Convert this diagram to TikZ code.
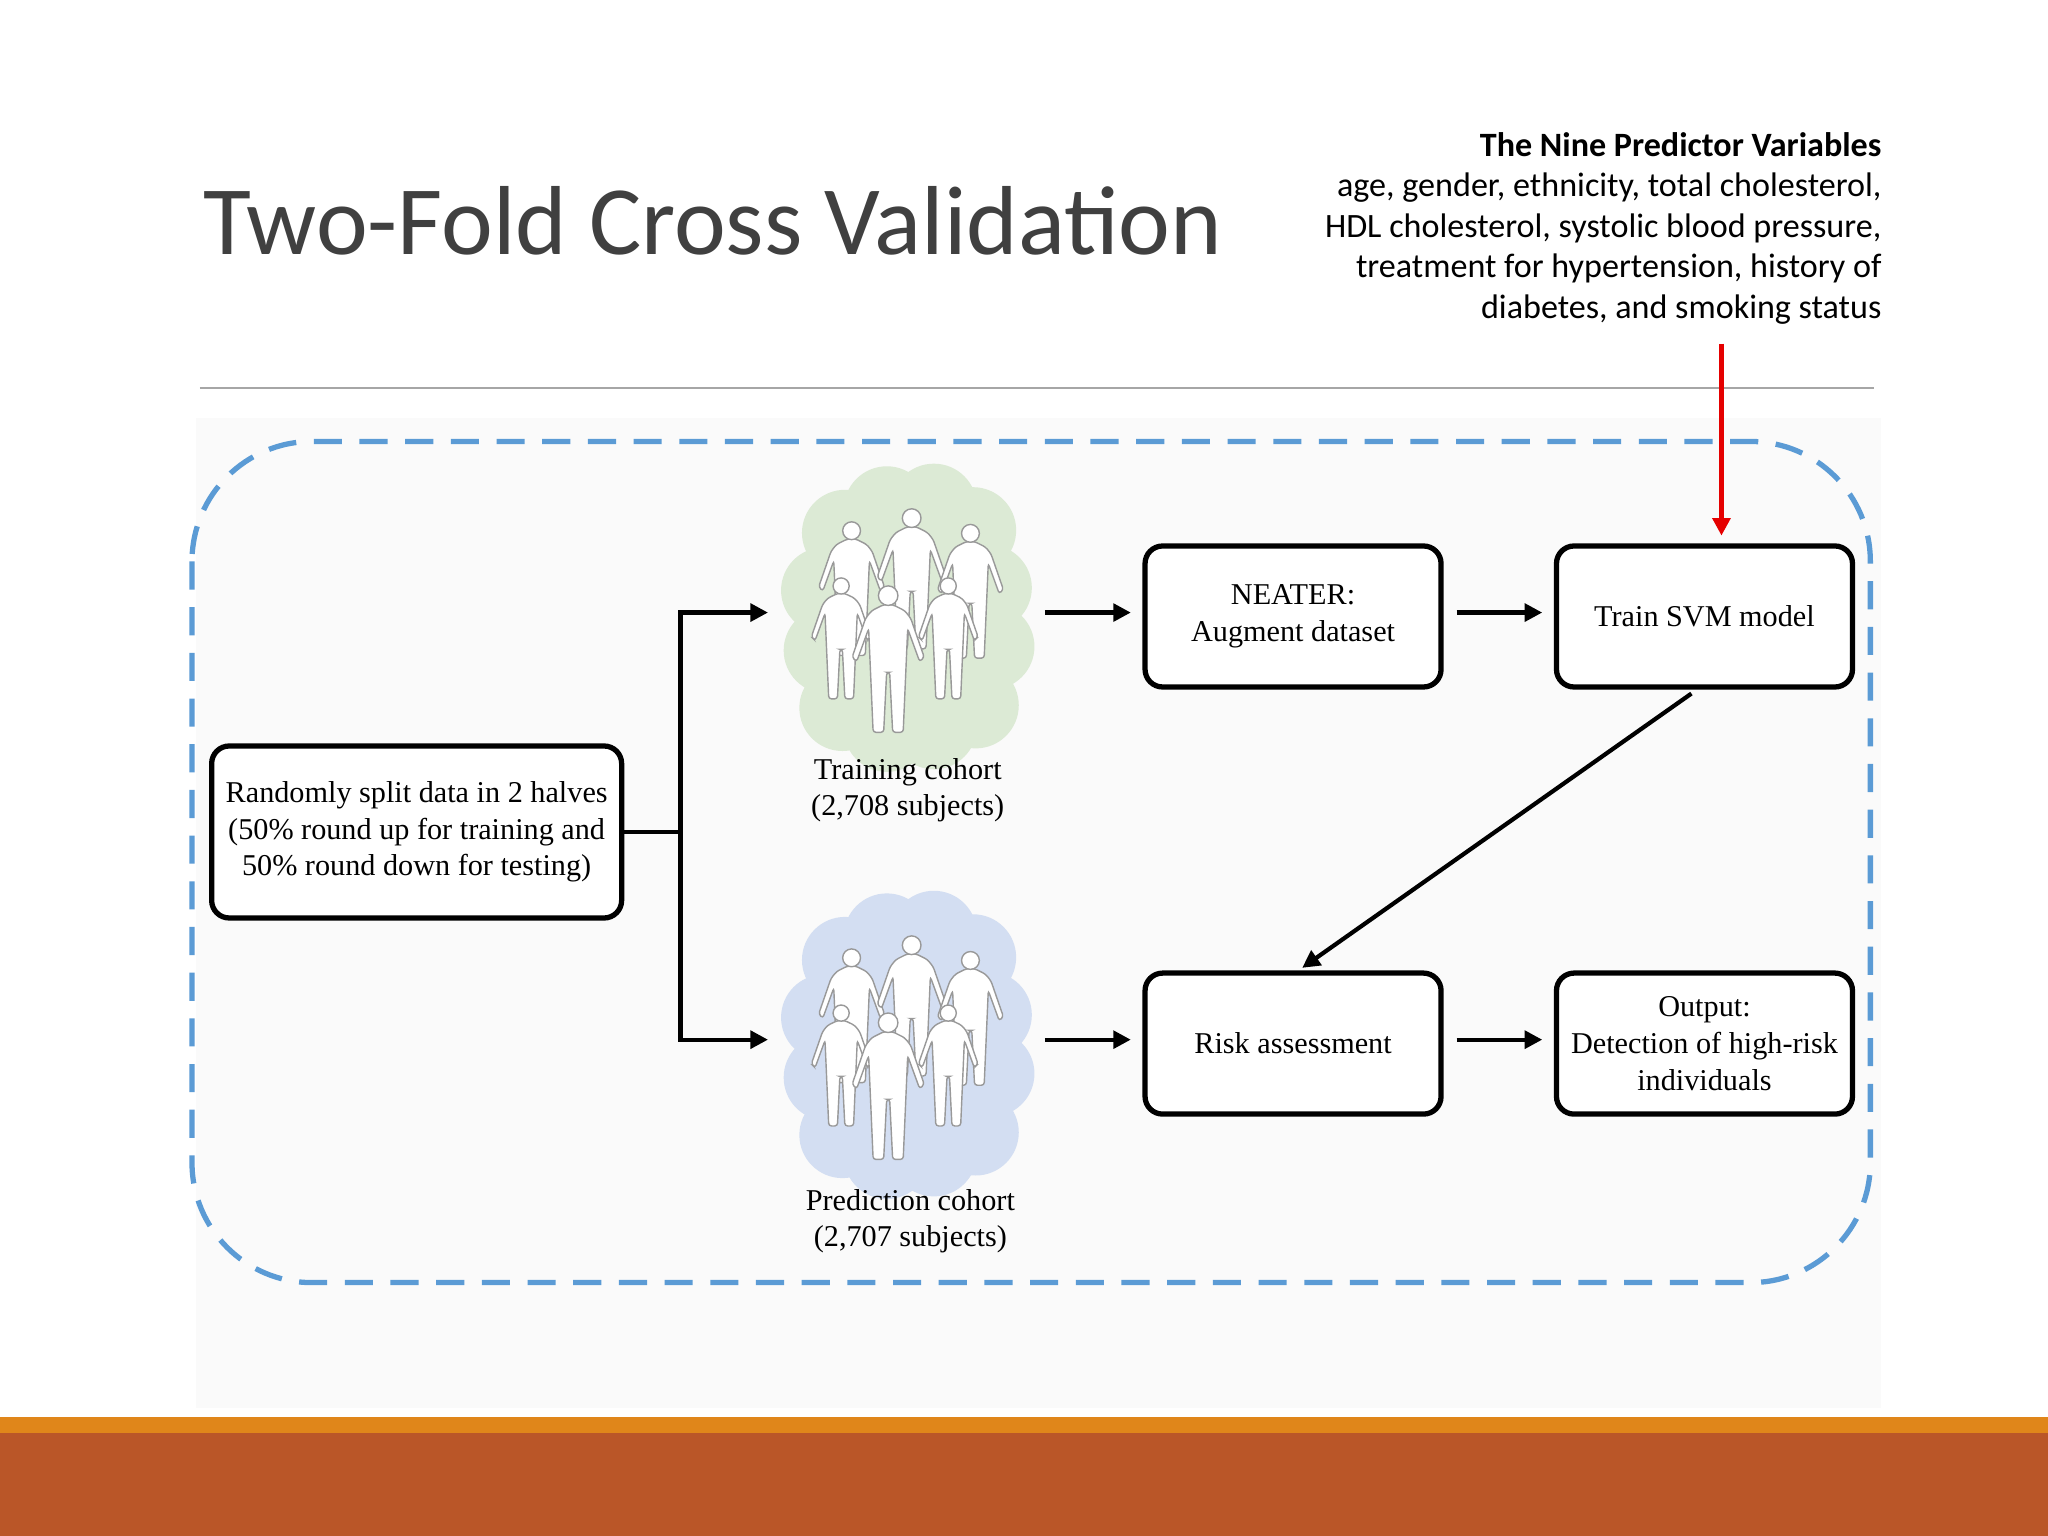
\documentclass[tikz,border=0pt]{standalone}
\usepackage{fontspec}
\setmainfont{Liberation Serif}
\newfontfamily\calfont{Carlito}
\usetikzlibrary{arrows.meta}
\definecolor{dashblue}{HTML}{5B9BD5}
\definecolor{titlegray}{HTML}{404040}
\definecolor{barorange}{HTML}{E0861A}
\definecolor{barrust}{HTML}{BA5628}
\definecolor{cgreen}{HTML}{DCEAD5}
\definecolor{cblue}{HTML}{D3DEF2}
\tikzset{
  flowbox/.style={draw=black,line width=1.5pt,rounded corners=5pt,fill=white,align=center,font=\fontsize{8.6}{10.4}\selectfont,inner sep=0pt},
  flowarrow/.style={line width=1.2pt,-{Triangle[length=5pt,width=5pt]}},
  cohort/.style={align=center,font=\fontsize{8.6}{10.4}\selectfont},
  pics/person/.style={code={
    \fill[white,draw=gray!80,line width=0.4pt,rounded corners=0.8]
      (-3,13)--(-11,17)--(-15,22)--(-24,48)--(-21,51)--(-13,29)--(-12,52)--(-10,98)--(-3,98)--(-1,58)--(1,58)--(3,98)--(10,98)--(12,52)--(13,29)--(21,51)--(24,48)--(15,22)--(11,17)--(3,13)--cycle;
    \fill[white,draw=gray!80,line width=0.4pt] (0,7) circle (6.5);
  }},
  pics/crowd/.style={code={
    \foreach \cx/\cy in {-48/-62,-16/-80,20/-82,50/-64,62/-20,64/25,52/70,20/86,-16/88,-50/72,-62/28,-64/-18}
      \fill[#1] (\cx,\cy) circle (33);
    \fill[#1] (0,0) ellipse (62 and 85);
    \pic[scale=1.05] at (-43,-71) {person};
    \pic[scale=1.1] at (3,-81) {person};
    \pic[scale=1.05] at (48,-69) {person};
    \pic[scale=0.95] at (-51,-28) {person};
    \pic[scale=0.95] at (31,-28) {person};
    \pic[scale=1.15] at (-15,-22) {person};
  }}
}
\begin{document}
\begin{tikzpicture}[x=0.01306cm,y=-0.01306cm]
\useasboundingbox (0,0) rectangle (1568,1176);
\fill[white] (0,0) rectangle (1568,1176);
\fill[black!2] (150,320) rectangle (1440,1078);
% bottom bars
\fill[barorange] (0,1085) rectangle (1568,1098);
\fill[barrust] (0,1097) rectangle (1568,1176);
% title
\node[anchor=base west,inner sep=0pt,text=titlegray,font=\calfont\fontsize{27.9}{34}\selectfont] (title) at (155,195) {Two-Fold Cross Validation};
\node[anchor=north east,inner sep=0pt,align=right,font=\calfont\fontsize{9.7}{11.5}\selectfont] (vars) at (1441,101)
 {\textbf{The Nine Predictor Variables}\\age, gender, ethnicity, total cholesterol,\\HDL cholesterol, systolic blood pressure,\\treatment for hypertension, history of\\diabetes, and smoking status};
\draw[gray!70,line width=0.5pt] (153,297) -- (1435,297);
% dashed frame
\draw[dashblue,line width=1.5pt,dash pattern=on 8pt off 5pt,rounded corners=1.2cm] (147,338) rectangle (1432,982);
% clouds
\pic at (695,470) {crowd=cgreen};
\pic at (695,797) {crowd=cblue};
\node[cohort] (train) at (695,605) {Training cohort\\(2,708 subjects)};
\node[cohort] (pred) at (697,935) {Prediction cohort\\(2,707 subjects)};
% boxes
\node[flowbox,minimum width=4.1cm,minimum height=1.72cm] (split) at (319,637) {Randomly split data in 2 halves\\(50\% round up for training and\\50\% round down for testing)};
\node[flowbox,minimum width=2.96cm,minimum height=1.41cm] (neater) at (990,472) {NEATER:\\Augment dataset};
\node[flowbox,minimum width=2.96cm,minimum height=1.41cm] (svm) at (1305,472) {Train SVM model};
\node[flowbox,minimum width=2.96cm,minimum height=1.41cm] (risk) at (990,799) {Risk assessment};
\node[flowbox,minimum width=2.96cm,minimum height=1.41cm] (out) at (1305,799) {Output:\\Detection of high-risk\\individuals};
% connectors
\coordinate (fork) at (521,637);
\coordinate (tcin) at (588,469);
\coordinate (pcin) at (588,796);
\coordinate (tcout) at (800,469);
\coordinate (pcout) at (800,796);
\draw[line width=1.2pt] (split.east) -- (fork);
\draw[flowarrow] (fork) |- (tcin);
\draw[flowarrow] (fork) |- (pcin);
\draw[flowarrow] (tcout) -- ([xshift=-3.3pt]neater.west|-tcout);
\draw[flowarrow] (pcout) -- ([xshift=-3.3pt]risk.west|-pcout);
\draw[flowarrow] ([xshift=3.7pt]neater.east|-tcout) -- ([xshift=-3.3pt]svm.west|-tcout);
\draw[flowarrow] ([xshift=3.7pt]risk.east|-pcout) -- ([xshift=-3.3pt]out.west|-pcout);
\coordinate (diagA) at (1295,531);
\coordinate (diagB) at (997,741);
\draw[flowarrow] (diagA) -- (diagB);
\coordinate (redtop) at (1318,263);
\draw[red!90!black,line width=1.4pt,-{Triangle[length=5pt,width=5pt]}] (redtop) -- ([yshift=2.2pt]svm.north-|redtop);
\end{tikzpicture}
\end{document}
